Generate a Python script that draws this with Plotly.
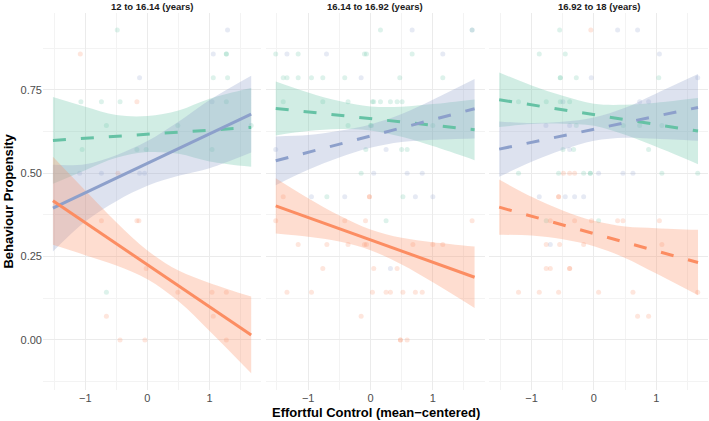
import plotly.graph_objects as go

# ---------------- data ----------------
panel_titles = ["12 to 16.14 (years)", "16.14 to 16.92 (years)", "16.92 to 18 (years)"]
group_names = ["green", "blue", "orange"]
group_colors = {"green": "#66C2A5", "blue": "#8DA0CB", "orange": "#FC8D62"}
group_fill = {"green": "rgba(102,194,165,0.30)", "blue": "rgba(141,160,203,0.30)",
              "orange": "rgba(252,141,98,0.30)"}

x_ticks = [-1, 0, 1]
x_tick_text = ["\u22121", "0", "1"]
y_ticks = [0, 0.25, 0.5, 0.75]
y_tick_text = ["0.00", "0.25", "0.50", "0.75"]

# fitted line end points (x from -1.52 to 1.67)
fit_x = [-1.52, 1.67]
fit_p1 = {"green": [0.598, 0.637], "blue": [0.395, 0.677], "orange": [0.417, 0.015]}
fit_p2 = {"green": [0.694, 0.630], "blue": [0.537, 0.693], "orange": [0.402, 0.188]}
fit_p3 = {"green": [0.720, 0.626], "blue": [0.572, 0.697], "orange": [0.398, 0.232]}
dash_p1 = {"green": True, "blue": False, "orange": False}
dash_p2 = {"green": True, "blue": True, "orange": False}
dash_p3 = {"green": True, "blue": True, "orange": True}

# confidence ribbons read at these x positions
band_x = [-1.52, -1.0, -0.5, 0.0, 0.5, 1.0, 1.67]
up_p1 = {"green": [0.728, 0.699, 0.674, 0.671, 0.688, 0.723, 0.755],
         "blue": [0.525, 0.527, 0.554, 0.596, 0.654, 0.719, 0.792],
         "orange": [0.549, 0.448, 0.353, 0.268, 0.208, 0.171, 0.130]}
lo_p1 = {"green": [0.468, 0.509, 0.546, 0.563, 0.558, 0.535, 0.519],
         "blue": [0.265, 0.355, 0.416, 0.462, 0.492, 0.515, 0.562],
         "orange": [0.285, 0.254, 0.223, 0.182, 0.116, 0.027, -0.100]}
up_p2 = {"green": [0.775, 0.742, 0.716, 0.700, 0.699, 0.707, 0.721],
         "blue": [0.610, 0.614, 0.627, 0.646, 0.677, 0.720, 0.782],
         "orange": [0.485, 0.425, 0.373, 0.331, 0.306, 0.293, 0.280]}
lo_p2 = {"green": [0.613, 0.626, 0.632, 0.628, 0.609, 0.581, 0.539],
         "blue": [0.464, 0.510, 0.547, 0.576, 0.593, 0.600, 0.604],
         "orange": [0.319, 0.309, 0.295, 0.269, 0.226, 0.173, 0.096]}
up_p3 = {"green": [0.802, 0.763, 0.732, 0.708, 0.705, 0.711, 0.725],
         "blue": [0.655, 0.650, 0.654, 0.667, 0.696, 0.739, 0.797],
         "orange": [0.481, 0.429, 0.388, 0.357, 0.340, 0.335, 0.330]}
lo_p3 = {"green": [0.638, 0.647, 0.648, 0.642, 0.615, 0.579, 0.527],
         "blue": [0.489, 0.534, 0.570, 0.597, 0.606, 0.603, 0.597],
         "orange": [0.315, 0.313, 0.302, 0.281, 0.246, 0.199, 0.134]}

# raw points (jittered observations)
pts_p1_x = {
    "green": [-0.485, 1.27, 1.27, 1.06, 1.29, -1.07, -0.74, -0.44, 1.27, -0.66, 0.49, 1.67,
              -1.05, -0.169, -0.02, 1.04, -0.66],
    "blue": [1.29, 1.06, -0.126, 1.04, -1.09, -0.74, -0.126, -0.046],
    "orange": [-1.08, -0.169, -0.474, -0.74, -0.169, -0.137, -0.02, 0.49, 1.04, 1.27, -0.66,
               1.06, -0.44, -0.04, 1.27]}
pts_p1_y = {
    "green": [0.929, 0.857, 0.857, 0.786, 0.786, 0.714, 0.714, 0.714, 0.714, 0.643, 0.643, 0.643,
              0.571, 0.571, 0.571, 0.571, 0.143],
    "blue": [0.929, 0.857, 0.786, 0.714, 0.5, 0.5, 0.5, 0.5],
    "orange": [0.857, 0.714, 0.5, 0.357, 0.357, 0.357, 0.214, 0.143, 0.143, 0.143, 0.071,
               0.071, 0.0, 0.0, 0.0]}
pts_p2_x = {
    "green": [0.16, 1.63, -1.52, -1.16, -0.097, -0.065, 0.668, -1.40, -1.34, -1.16, -0.947,
              -0.765, -0.413, 0.47, 1.16, -1.40, -0.765, -0.36, 0.031, 0.052, 0.16, 0.32,
              0.427, 0.507, -0.36, 0.0, 0.016, 1.0, -0.075, 0.50, 0.588, -0.150, -0.70, 0.52,
              0.25],
    "blue": [0.668, 1.63, -1.34, -0.706, 1.16, -0.150, -1.52, 0.25, 0.052, 0.588, 0.83, -0.947,
             -0.413, 0.72, 1.0, 0.32],
    "orange": [-1.40, -0.017, -0.017, -1.52, -0.413, -0.08, 1.63, -1.16, -0.70, -0.36, -0.097,
               -0.065, 0.68, 1.0, 1.16, -0.765, 0.052, 0.427, -1.34, -0.947, 0.031, 0.25, 0.32,
               0.52, 0.72, 0.83, -0.150, 0.48, 0.48, 0.588]}
pts_p2_y = {
    "green": [0.929, 0.929, 0.857, 0.857, 0.857, 0.857, 0.857, 0.786, 0.786, 0.786, 0.786,
              0.786, 0.786, 0.786, 0.786, 0.714, 0.714, 0.714, 0.714, 0.714, 0.714, 0.714,
              0.714, 0.714, 0.643, 0.643, 0.643, 0.643, 0.571, 0.571, 0.571, 0.5, 0.429, 0.429,
              0.357],
    "blue": [0.929, 0.929, 0.857, 0.857, 0.857, 0.786, 0.571, 0.571, 0.5, 0.5, 0.5, 0.429,
             0.429, 0.429, 0.429, 0.214],
    "orange": [0.429, 0.429, 0.429, 0.357, 0.357, 0.357, 0.357, 0.286, 0.286, 0.286, 0.286,
               0.286, 0.286, 0.286, 0.286, 0.214, 0.214, 0.214, 0.143, 0.143, 0.143, 0.143,
               0.143, 0.143, 0.143, 0.143, 0.071, 0.0, 0.0, 0.0]}
pts_p3_x = {
    "green": [-0.55, -0.877, -0.46, -0.54, -0.54, -0.283, 1.04, -1.21, -0.765, -0.54, -0.39,
              -0.283, 0.47, 0.733, 1.09, -0.497, -0.326, 0.877, -1.21, -0.567, -0.165, -0.058,
              -0.058, 1.09, 1.665, -0.765, 0.075],
    "blue": [0.38, 0.70, 1.05, -0.043, 1.665, -0.497, 0.733, 0.877, -0.77, -0.39, -0.39, 0.075,
             0.466, 0.626, -0.877, -0.46, -0.31, -0.165, -0.70],
    "orange": [-0.05, -0.49, -0.39, -0.31, -0.567, -0.567, -0.70, -0.31, -0.04, 0.38, 0.466,
               1.05, -0.765, -0.55, -0.165, 1.09, -0.765, -0.70, -0.39, -0.39, -1.21, -0.877,
               -0.567, 0.075, 0.626, 1.665, 0.70, 0.877]}
pts_p3_y = {
    "green": [0.929, 0.857, 0.857, 0.786, 0.786, 0.786, 0.786, 0.714, 0.714, 0.714, 0.714,
              0.643, 0.643, 0.643, 0.643, 0.571, 0.571, 0.571, 0.5, 0.5, 0.5, 0.5, 0.5, 0.5,
              0.5, 0.357, 0.357],
    "blue": [0.929, 0.929, 0.857, 0.786, 0.786, 0.714, 0.714, 0.714, 0.643, 0.643, 0.571, 0.5,
             0.5, 0.5, 0.429, 0.429, 0.429, 0.429, 0.286],
    "orange": [0.929, 0.5, 0.5, 0.5, 0.429, 0.429, 0.357, 0.357, 0.357, 0.357, 0.357, 0.357,
               0.286, 0.286, 0.286, 0.286, 0.214, 0.214, 0.214, 0.214, 0.143, 0.143, 0.143,
               0.143, 0.143, 0.143, 0.071, 0.071]}

panels = [
    (pts_p1_x, pts_p1_y, fit_p1, dash_p1, up_p1, lo_p1),
    (pts_p2_x, pts_p2_y, fit_p2, dash_p2, up_p2, lo_p2),
    (pts_p3_x, pts_p3_y, fit_p3, dash_p3, up_p3, lo_p3),
]

# ---------------- figure ----------------
FONT = "Liberation Sans, Arial, Helvetica, sans-serif"
fig = go.Figure()

for i, (px, py, fit, dsh, up, lo) in enumerate(panels):
    xa = "x" if i == 0 else f"x{i+1}"
    ya = "y" if i == 0 else f"y{i+1}"
    # points
    for g in group_names:
        fig.add_trace(go.Scatter(x=px[g], y=py[g], mode="markers", xaxis=xa, yaxis=ya,
                                 marker=dict(color=group_colors[g], size=5, opacity=0.22),
                                 showlegend=False, hoverinfo="skip"))
    # ribbons
    for g in group_names:
        fig.add_trace(go.Scatter(x=band_x, y=lo[g], mode="lines", xaxis=xa, yaxis=ya,
                                 line=dict(width=0, shape="spline", color=group_colors[g]),
                                 showlegend=False, hoverinfo="skip"))
        fig.add_trace(go.Scatter(x=band_x, y=up[g], mode="lines", xaxis=xa, yaxis=ya,
                                 fill="tonexty", fillcolor=group_fill[g],
                                 line=dict(width=0, shape="spline", color=group_colors[g]),
                                 showlegend=False, hoverinfo="skip"))
    # fitted lines
    for g in group_names:
        fig.add_trace(go.Scatter(x=fit_x, y=fit[g], mode="lines", xaxis=xa, yaxis=ya,
                                 line=dict(color=group_colors[g], width=3,
                                           dash="13px,15px" if dsh[g] else "solid"),
                                 showlegend=False, hoverinfo="skip"))

domains = [[0.0, 0.328], [0.335, 0.664], [0.671, 1.0]]
grid_major = "#EBEBEB"
grid_minor = "#F3F3F3"
layout = dict(
    width=709, height=421,
    margin=dict(l=43, r=1, t=13, b=31),
    paper_bgcolor="white", plot_bgcolor="white",
    font=dict(family=FONT, color="#4D4D4D", size=11),
    showlegend=False,
)
for i in range(3):
    xk = "xaxis" if i == 0 else f"xaxis{i+1}"
    yk = "yaxis" if i == 0 else f"yaxis{i+1}"
    xa = "x" if i == 0 else f"x{i+1}"
    ya = "y" if i == 0 else f"y{i+1}"
    layout[xk] = dict(domain=domains[i], anchor=ya, range=[-1.68, 1.83],
                      tickmode="array", tickvals=x_ticks, ticktext=x_tick_text,
                      showgrid=True, gridcolor=grid_major, gridwidth=1,
                      zeroline=False, showline=False, ticks="",
                      tickfont=dict(size=11, color="#4D4D4D", family=FONT),
                      minor=dict(tickvals=[-1.5, -0.5, 0.5, 1.5], showgrid=True,
                                 gridcolor=grid_minor, gridwidth=1))
    layout[yk] = dict(anchor=xa, range=[-0.15, 0.98], domain=[0, 1],
                      tickmode="array", tickvals=y_ticks, ticktext=y_tick_text,
                      showticklabels=(i == 0),
                      showgrid=True, gridcolor=grid_major, gridwidth=1,
                      zeroline=False, showline=False, ticks="",
                      tickfont=dict(size=11, color="#4D4D4D", family=FONT),
                      minor=dict(tickvals=[-0.125, 0.125, 0.375, 0.625, 0.875], showgrid=True,
                                 gridcolor=grid_minor, gridwidth=1))
fig.update_layout(**layout)

annotations = []
for i, t in enumerate(panel_titles):
    annotations.append(dict(text=f"<b>{t}</b>", xref="paper", yref="paper",
                            x=(domains[i][0] + domains[i][1]) / 2, y=1.0,
                            xanchor="center", yanchor="bottom", yshift=-1, showarrow=False,
                            font=dict(size=9.5, color="#1A1A1A", family=FONT)))
annotations.append(dict(text="<b>Effortful Control (mean\u2212centered)</b>", xref="paper",
                        yref="paper", x=0.5, y=-0.061, xanchor="center", yanchor="middle",
                        showarrow=False, font=dict(size=13, color="#000000", family=FONT)))
annotations.append(dict(text="<b>Behaviour Propensity</b>", xref="paper", yref="paper",
                        x=-0.0526, y=0.5, xanchor="center", yanchor="middle", textangle=-90,
                        showarrow=False, font=dict(size=13, color="#000000", family=FONT)))
fig.update_layout(annotations=annotations)

fig.write_html("out.html")
